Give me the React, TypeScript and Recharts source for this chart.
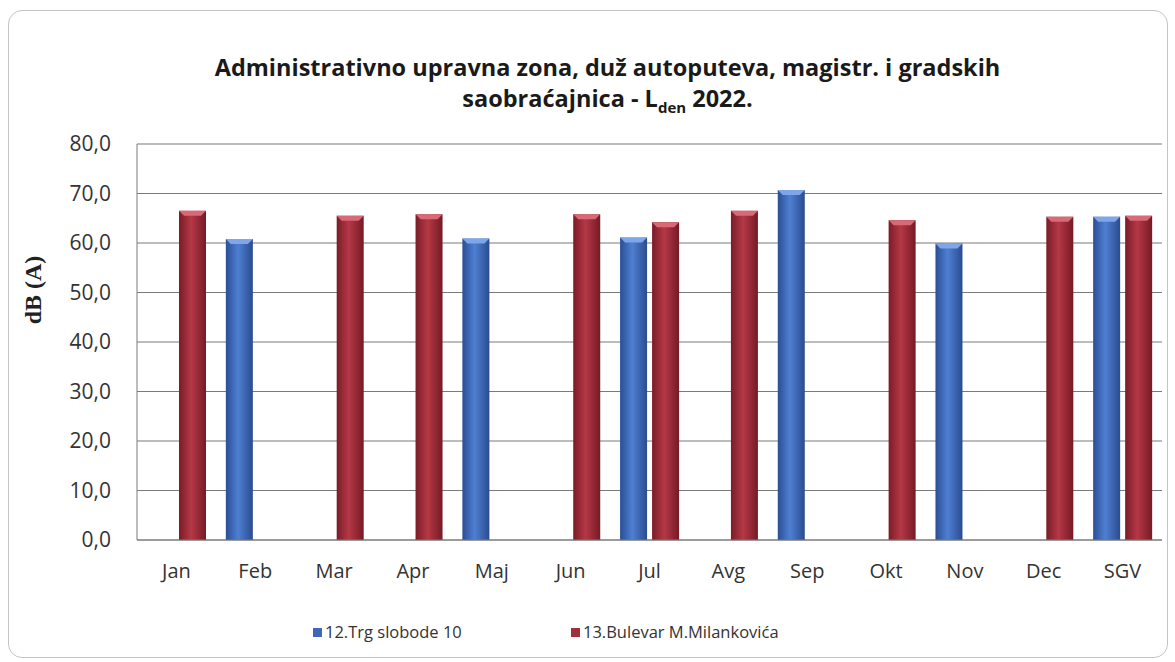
import { BarChart, Bar, XAxis, YAxis, CartesianGrid } from 'recharts'

const months = ['Jan', 'Feb', 'Mar', 'Apr', 'Maj', 'Jun', 'Jul', 'Avg', 'Sep', 'Okt', 'Nov', 'Dec', 'SGV']
const trgSlobode = [null, 60.8, null, null, 60.9, null, 61.1, null, 70.7, null, 59.9, null, 65.3]
const bulevar = [66.5, null, 65.5, 65.8, null, 65.8, 64.2, 66.5, null, 64.6, null, 65.3, 65.5]
const yTicks = [0, 10, 20, 30, 40, 50, 60, 70, 80]
const seriesNames = ['12.Trg slobode 10', '13.Bulevar M.Milankovića']

const chartData = months.map((m, i) => ({
  month: m,
  trg: trgSlobode[i],
  bulevar: bulevar[i],
}))

const FONT = '"Open Sans", Lato, sans-serif'

// bar with a rounded-cylinder look and a light bevel at the top
function CylinderBar(props: any) {
  const { x, y, width, height, gradId, top } = props
  if (!height || height <= 0) return null
  const b = Math.min(5, height)
  return (
    <g>
      <rect x={x} y={y} width={width} height={height} fill={`url(#${gradId})`} />
      <path
        d={`M${x},${y} L${x + width},${y} L${x + width - 5},${y + b} L${x + 5},${y + b} Z`}
        fill={top}
      />
    </g>
  )
}

function LegendSwatch({ color }: { color: string }) {
  return (
    <span
      style={{
        display: 'inline-block',
        width: 9,
        height: 9,
        background: color,
        marginRight: 3,
        verticalAlign: 'middle',
        position: 'relative',
        top: -1,
      }}
    />
  )
}

export default function App() {
  return (
    <div style={{ position: 'fixed', left: 0, top: 0, width: 1175, height: 662, background: '#fff', fontFamily: FONT }}>
      <div
        style={{
          position: 'absolute',
          left: 8,
          top: 10,
          width: 1158,
          height: 646,
          border: '1px solid #c4c4c4',
          borderRadius: 14,
        }}
      />
      <div
        style={{
          position: 'absolute',
          left: 0,
          width: 1215,
          top: 52,
          textAlign: 'center',
          fontSize: 23.5,
          fontWeight: 700,
          color: '#1a1a1a',
          lineHeight: '31px',
        }}
      >
        Administrativno upravna zona, duž autoputeva, magistr. i gradskih
        <br />
        saobraćajnica - L<sub style={{ fontSize: 15 }}>den</sub> 2022.
      </div>
      <div
        style={{
          position: 'absolute',
          left: 33,
          top: 290,
          transform: 'translate(-50%, -50%) rotate(-90deg)',
          fontFamily: '"Liberation Serif", "DejaVu Serif", serif',
          fontWeight: 700,
          fontSize: 24,
          color: '#222',
          whiteSpace: 'nowrap',
        }}
      >
        dB (A)
      </div>

      <BarChart
        width={1175}
        height={662}
        data={chartData}
        margin={{ top: 144, right: 13, left: 65, bottom: 92 }}
        barSize={27}
        barGap={5}
        style={{ position: 'absolute', left: 0, top: 0 }}
      >
        <defs>
          <linearGradient id='blueGrad' x1='0' y1='0' x2='1' y2='0'>
            <stop offset='0%' stopColor='#2a4e94' />
            <stop offset='45%' stopColor='#4f7fd2' />
            <stop offset='100%' stopColor='#2a4c8f' />
          </linearGradient>
          <linearGradient id='redGrad' x1='0' y1='0' x2='1' y2='0'>
            <stop offset='0%' stopColor='#7a1c28' />
            <stop offset='45%' stopColor='#b53846' />
            <stop offset='100%' stopColor='#761a25' />
          </linearGradient>
        </defs>
        <CartesianGrid vertical={false} stroke='#7a7a7a' strokeWidth={1.2} />
        <XAxis
          dataKey='month'
          height={30}
          axisLine={{ stroke: '#7a7a7a' }}
          tickLine={false}
          tick={{ fontSize: 20, fill: '#333', fontFamily: FONT }}
          tickMargin={18}
        />
        <YAxis
          width={72}
          domain={[0, 80]}
          ticks={yTicks}
          interval={0}
          axisLine={{ stroke: '#7a7a7a' }}
          tickLine={false}
          tickMargin={20}
          tick={{ fontSize: 21, fill: '#333', fontFamily: FONT }}
          tickFormatter={(v: number) => v.toFixed(1).replace('.', ',')}
        />
        <Bar
          dataKey='trg'
          name={seriesNames[0]}
          isAnimationActive={false}
          shape={(p: any) => <CylinderBar {...p} gradId='blueGrad' top='#7ea6e8' />}
        />
        <Bar
          dataKey='bulevar'
          name={seriesNames[1]}
          isAnimationActive={false}
          shape={(p: any) => <CylinderBar {...p} gradId='redGrad' top='#d86a78' />}
        />
      </BarChart>

      <div style={{ position: 'absolute', left: 313, top: 620, fontSize: 16.5, color: '#333', whiteSpace: 'nowrap' }}>
        <LegendSwatch color='#3f69b8' />
        {seriesNames[0]}
      </div>
      <div style={{ position: 'absolute', left: 571, top: 620, fontSize: 16.5, color: '#333', whiteSpace: 'nowrap' }}>
        <LegendSwatch color='#a0303c' />
        {seriesNames[1]}
      </div>
    </div>
  )
}
